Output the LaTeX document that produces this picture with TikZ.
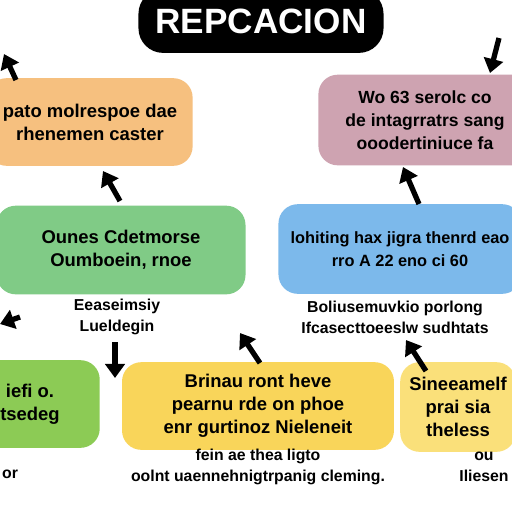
\documentclass[tikz,border=0pt]{standalone}
\usepackage{fontspec}
\setmainfont{Liberation Sans}
\usetikzlibrary{arrows.meta}
\definecolor{cOrange}{HTML}{F6C07F}
\definecolor{cPink}{HTML}{CEA3B1}
\definecolor{cGreen}{HTML}{80CB86}
\definecolor{cBlue}{HTML}{7CB9EB}
\definecolor{cLime}{HTML}{8CCB55}
\definecolor{cYellow}{HTML}{F9D55A}
\definecolor{cLtYellow}{HTML}{FAE07A}
\tikzset{
  box/.style={rounded corners=11pt, inner sep=0pt, align=center,
    font=\fontsize{10.5}{13}\selectfont\bfseries},
  note/.style={align=center, font=\fontsize{9}{12}\selectfont\bfseries},
  flow/.style={line width=3pt, -{Triangle[length=8pt,width=11pt]}, black},
}
\begin{document}
\begin{tikzpicture}[x=0.02cm,y=-0.02cm]
\useasboundingbox (0,0) rectangle (512,512);
\clip (0,0) rectangle (512,512);
\fill[white] (0,0) rectangle (512,512);
% title
\node[box, fill=black, text=white, minimum width=246*0.567pt, minimum height=64*0.567pt,
  rounded corners=14pt, font=\fontsize{20}{22}\selectfont\bfseries] (title) at (261,21) {REPCACION};
% boxes
\node[box, fill=cOrange, minimum width=206*0.567pt, minimum height=88*0.567pt] (orange) at (90,122)
  {pato molrespoe dae\\rhenemen caster};
\node[box, fill=cPink, minimum width=214*0.567pt, minimum height=91*0.567pt,
  font=\fontsize{10}{13}\selectfont\bfseries] (pink) at (425,120)
  {Wo 63 serolc co\\de intagrratrs sang\\ooodertiniuce fa};
\node[box, fill=cGreen, minimum width=250*0.567pt, minimum height=89*0.567pt] (green) at (121,250)
  {Ounes Cdetmorse\\Oumboein, rnoe};
\node[box, fill=cBlue, minimum width=244*0.567pt, minimum height=90*0.567pt,
  font=\fontsize{9.3}{13}\selectfont\bfseries] (blue) at (400,249)
  {lohiting hax jigra thenrd eao\\rro A 22 eno ci 60};
\node[box, fill=cLime, minimum width=140*0.567pt, minimum height=88*0.567pt] (lime) at (30,404)
  {iefi o.\\tsedeg};
\node[box, fill=cYellow, minimum width=273*0.567pt, minimum height=88*0.567pt] (yellow) at (258,406)
  {Brinau ront heve\\pearnu rde on phoe\\enr gurtinoz Nieleneit};
\node[box, fill=cLtYellow, minimum width=116*0.567pt, minimum height=90*0.567pt] (ltyellow) at (458,407)
  {Sineeamelf\\prai sia\\theless};
% notes
\node[note] (ngreen) at (117,317) {Eeaseimsiy\\Lueldegin};
\node[note] (nblue) at (395,317) {Boliusemuvkio porlong\\Ifcasecttoeeslw sudhtats};
\node[note] (nyellow) at (258,467) {fein ae thea ligto\\oolnt uaennehnigtrpanig cleming.};
\node[note] (nlime) at (10,474) {or};
\node[note] (nlt) at (484,467) {ou\\Iliesen};
% arrow ends
\coordinate (a1s) at (16,80);  \coordinate (a1e) at (4,54);
\coordinate (a2s) at (499,38); \coordinate (a2e) at (490,73);
\coordinate (a3s) at (120,201); \coordinate (a3e) at (103,171);
\coordinate (a4s) at (419,204); \coordinate (a4e) at (403,167);
\coordinate (a5s) at (20,317); \coordinate (a5e) at (0,324);
\coordinate (a6s) at (115,342); \coordinate (a6e) at (115,378);
\coordinate (a7s) at (260,363); \coordinate (a7e) at (240,333);
\coordinate (a8s) at (426,371); \coordinate (a8e) at (406,340);
\foreach \i in {1,...,8} \draw[flow] (a\i s) -- (a\i e);
\end{tikzpicture}
\end{document}
